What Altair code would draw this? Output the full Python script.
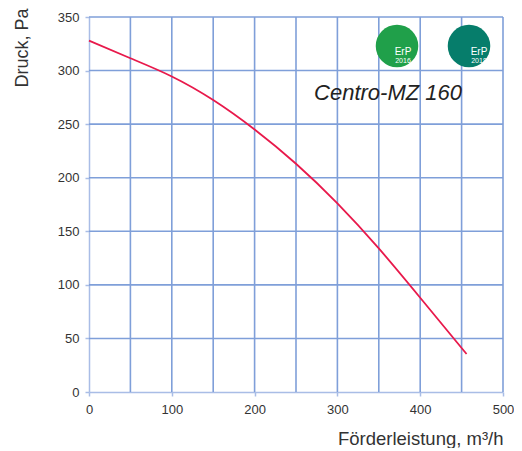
import altair as alt
import pandas as pd

# Data
flow = [0, 50, 100, 150, 200, 250, 300, 350, 400, 456]
pressure = [328, 311.5, 294.5, 272.5, 245, 213, 176, 134, 88, 35.5]
x_ticks = [0, 100, 200, 300, 400, 500]
y_ticks = [0, 50, 100, 150, 200, 250, 300, 350]
x_grid = [50, 100, 150, 200, 250, 300, 350, 400, 450, 500]
y_grid = [50, 100, 150, 200, 250, 300, 350]

GRID = "#7f9fd9"
EDGE = "#a9bde6"
FONT = "Liberation Sans"
W = 414
H = 375

xs = alt.Scale(domain=[0, 500], nice=False, zero=False)
ys = alt.Scale(domain=[0, 350], nice=False, zero=False)

x_axis = alt.Axis(
    values=x_ticks, grid=False, title="Förderleistung, m³/h", labelFlush=False,
    domainColor=EDGE, domainWidth=1.5, tickColor=EDGE, tickWidth=1.5, tickSize=4,
    labelFont=FONT, labelFontSize=13, labelColor="#333", labelPadding=7,
    titleFont=FONT, titleFontSize=18.5, titleFontWeight="normal", titleColor="#333",
    titleAlign="right", titleBaseline="alphabetic", titleX=W, titleY=52,
)
y_axis = alt.Axis(
    values=y_ticks, grid=False, title="Druck, Pa", labelFlush=False,
    domainColor=EDGE, domainWidth=1.5, tickColor=EDGE, tickWidth=1.5, tickSize=4,
    labelFont=FONT, labelFontSize=13, labelColor="#333", labelPadding=6,
    titleFont=FONT, titleFontSize=18, titleFontWeight="normal", titleColor="#333",
    titleAngle=270, titleAlign="right", titleBaseline="bottom",
    titleX=-58, titleY=-9,
)

df = pd.DataFrame({"flow": flow, "pressure": pressure})

curve = alt.Chart(df).mark_line(
    color="#e8194b", strokeWidth=1.8, interpolate="natural"
).encode(
    x=alt.X("flow:Q", scale=xs, axis=x_axis),
    y=alt.Y("pressure:Q", scale=ys, axis=y_axis),
)

grid_v = alt.Chart(pd.DataFrame({"flow": x_grid})).mark_rule(
    color=GRID, strokeWidth=1.6
).encode(x=alt.X("flow:Q", scale=xs, axis=x_axis))

grid_h = alt.Chart(pd.DataFrame({"pressure": y_grid})).mark_rule(
    color=GRID, strokeWidth=1.6
).encode(y=alt.Y("pressure:Q", scale=ys, axis=y_axis))

one = pd.DataFrame({"k": [0]})

badge1 = alt.Chart(one).mark_circle(size=1810, color="#20a04a", opacity=1).encode(
    x=alt.value(308), y=alt.value(29))
badge2 = alt.Chart(one).mark_circle(size=1810, color="#067d6b", opacity=1).encode(
    x=alt.value(380), y=alt.value(29))
erp1 = alt.Chart(one).mark_text(text="ErP", font=FONT, fontSize=10, color="white").encode(
    x=alt.value(314), y=alt.value(35))
yr1 = alt.Chart(one).mark_text(text="2016", font=FONT, fontSize=7, color="white").encode(
    x=alt.value(314), y=alt.value(44))
erp2 = alt.Chart(one).mark_text(text="ErP", font=FONT, fontSize=10, color="white").encode(
    x=alt.value(390), y=alt.value(35))
yr2 = alt.Chart(one).mark_text(text="2018", font=FONT, fontSize=7, color="white").encode(
    x=alt.value(390), y=alt.value(44))

label = alt.Chart(one).mark_text(
    text="Centro-MZ 160", font=FONT, fontStyle="italic", fontSize=22, color="#222",
    align="center", baseline="middle"
).encode(x=alt.value(299), y=alt.value(76))

chart = alt.layer(
    grid_v, grid_h, curve, badge1, badge2, erp1, yr1, erp2, yr2, label
).properties(
    width=W, height=H,
    padding={"left": 5, "top": 0, "right": 0, "bottom": 0},
).configure_view(stroke=None)

chart.save("out.html", embed_options={"renderer": "svg", "actions": False})
